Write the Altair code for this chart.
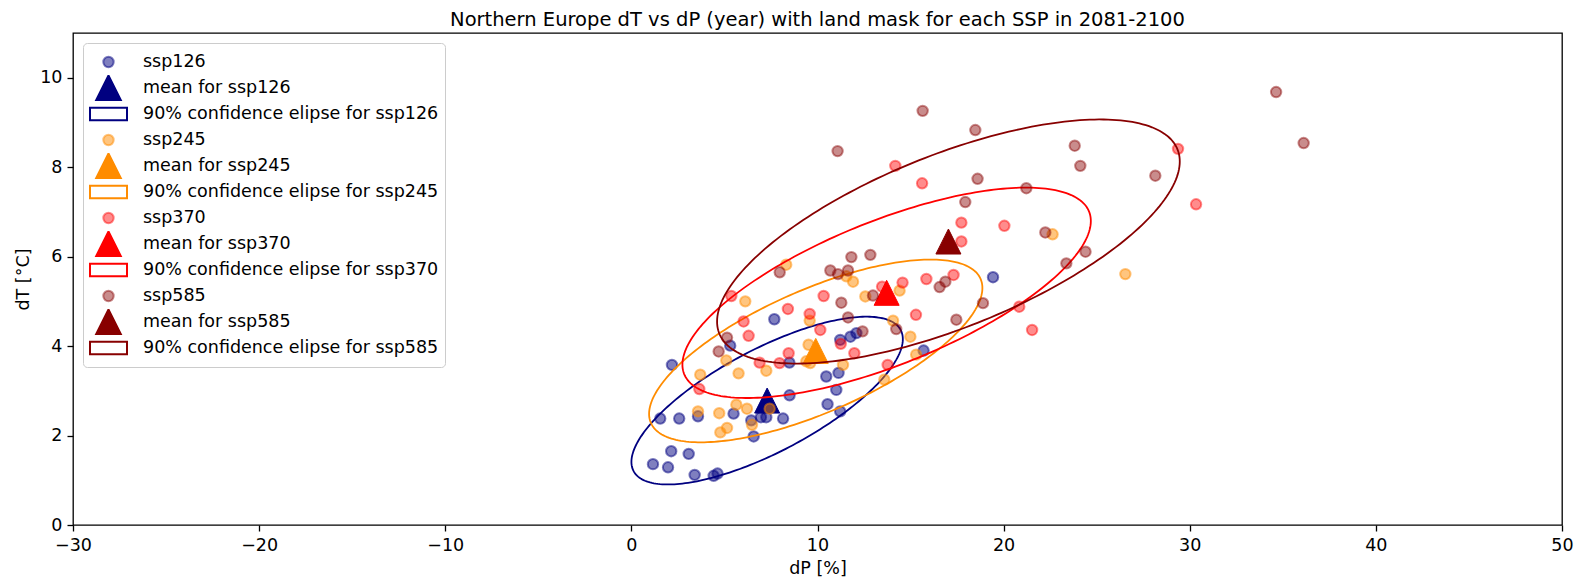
import altair as alt
import pandas as pd
import numpy as np

ssps = ["ssp126", "ssp245", "ssp370", "ssp585"]
solid = ["#000080", "#FF8C00", "#FF0000", "#880000"]
faded = ["rgba(0,0,128,0.5)", "rgba(255,140,0,0.5)", "rgba(255,0,0,0.45)", "rgba(136,0,0,0.45)"]

ssp126_dP = [1.16, 1.97, 2.14, 3.08, 3.40, 4.42, 4.63, 2.18, 1.55, 2.57, 3.58, 5.49, 6.44, 6.57, 6.96, 7.25,
             8.15, 8.50, 8.49, 10.47, 11.13, 11.01, 10.54, 11.22, 15.70, 11.22, 11.77, 12.09, 5.31, 7.68, 19.43]
ssp126_dT = [1.36, 1.29, 1.65, 1.59, 1.12, 1.10, 1.15, 3.58, 2.38, 2.38, 2.43, 2.49, 2.34, 1.98, 2.41, 2.41,
             2.38, 2.90, 3.63, 3.32, 3.40, 3.02, 2.70, 2.54, 3.90, 4.14, 4.21, 4.29, 4.01, 4.60, 5.54]

ssp245_dP = [3.70, 5.10, 5.76, 7.25, 9.40, 9.61, 11.37, 13.59, 15.30, 3.58, 4.72, 5.64, 6.21, 6.48, 4.78,
             5.14, 7.43, 8.32, 6.12, 9.58, 11.55, 11.91, 12.57, 14.41, 14.06, 14.99, 9.52, 22.63, 26.54]
ssp245_dT = [3.36, 3.68, 3.39, 3.45, 3.66, 3.62, 3.58, 3.25, 3.81, 2.54, 2.50, 2.69, 2.60, 2.24, 2.07,
             2.17, 2.60, 5.82, 5.00, 4.57, 5.56, 5.44, 5.11, 5.24, 4.57, 4.21, 4.03, 6.50, 5.61]

ssp370_dP = [5.37, 10.33, 8.41, 9.58, 6.03, 6.30, 10.15, 11.25, 8.45, 6.89, 7.96, 3.65, 11.98, 13.77,
             13.47, 14.57, 15.85, 17.31, 15.29, 20.84, 21.53, 17.73, 17.73, 20.04, 15.62, 14.18, 29.37, 30.34]
ssp370_dT = [5.12, 5.12, 4.83, 4.72, 4.55, 4.23, 4.36, 4.05, 3.84, 3.63, 3.62, 3.04, 3.84, 3.58,
             5.33, 5.42, 5.50, 5.59, 4.70, 4.88, 4.36, 6.34, 6.76, 6.69, 7.64, 8.03, 8.41, 7.17]

ssp585_dP = [7.97, 10.69, 11.10, 11.64, 11.82, 12.84, 11.28, 11.64, 5.14, 4.69, 12.98, 16.87, 16.56, 18.89,
             17.46, 14.23, 12.42, 15.65, 18.48, 11.08, 18.60, 23.82, 24.12, 21.22, 17.94, 22.24, 34.64,
             36.12, 28.15, 24.40, 23.37]
ssp585_dT = [5.65, 5.69, 5.61, 5.69, 5.99, 6.04, 4.97, 4.64, 4.19, 3.88, 5.13, 5.44, 5.32, 4.96,
             4.59, 4.38, 4.33, 9.26, 8.83, 8.36, 7.74, 8.48, 8.03, 7.53, 7.22, 6.54, 9.68,
             8.54, 7.81, 6.11, 5.85]

series = {
    "ssp126": (ssp126_dP, ssp126_dT),
    "ssp245": (ssp245_dP, ssp245_dT),
    "ssp370": (ssp370_dP, ssp370_dT),
    "ssp585": (ssp585_dP, ssp585_dT),
}

x_ticks = [-30, -20, -10, 0, 10, 20, 30, 40, 50]
y_ticks = [0, 2, 4, 6, 8, 10]
n_std = 1.645  # 90% confidence

TRI = "M0,-1L-1,1L1,1Z"
RECT = "M-1,-0.333L1,-0.333L1,0.333L-1,0.333Z"

# legend scales (one merged legend)
leg_domain, leg_fill, leg_stroke, leg_shape, leg_size = [], [], [], [], []
for s, c, f in zip(ssps, solid, faded):
    leg_domain += [s, f"mean for {s}", f"90% confidence elipse for {s}"]
    leg_fill += [f, c, "transparent"]
    leg_stroke += [f, c, c]
    leg_shape += ["circle", TRI, RECT]
    leg_size += [108, 625, 1369]

leg = alt.Legend(title=None, orient="top-left", offset=10, clipHeight=26, padding=6,
                 labelOffset=15, symbolStrokeWidth=2, labelLimit=0)

X = alt.X("dP:Q", scale=alt.Scale(domain=[-30, 50], nice=False, zero=False),
          axis=alt.Axis(values=x_ticks, title="dP [%]", labelFlush=False,
                        labelExpr="replace(datum.label, '-', '\u2212')"))
Y = alt.Y("dT:Q", scale=alt.Scale(domain=[0, 11], nice=False, zero=False),
          axis=alt.Axis(values=y_ticks, title="dT [°C]"))

layers = []
for s, c in zip(ssps, solid):
    xs, ys = series[s]
    pts = pd.DataFrame({"dP": xs, "dT": ys, "label": s})
    mx, my = float(np.mean(xs)), float(np.mean(ys))
    mean_df = pd.DataFrame({"dP": [mx], "dT": [my]})
    cov = np.cov(np.array(xs), np.array(ys))
    vals, vecs = np.linalg.eigh(cov)
    t = np.linspace(0, 2 * np.pi, 241)
    circ = np.vstack([np.cos(t), np.sin(t)])
    ell = vecs @ (np.sqrt(vals)[:, None] * circ) * n_std
    ell_df = pd.DataFrame({"dP": ell[0] + mx, "dT": ell[1] + my, "i": np.arange(len(t))})

    scatter = alt.Chart(pts).mark_point(filled=True, opacity=1, strokeWidth=2).encode(
        x=X, y=Y,
        fill=alt.Fill("label:N", scale=alt.Scale(domain=leg_domain, range=leg_fill), legend=leg),
        stroke=alt.Stroke("label:N", scale=alt.Scale(domain=leg_domain, range=leg_stroke), legend=leg),
        shape=alt.Shape("label:N", scale=alt.Scale(domain=leg_domain, range=leg_shape), legend=leg),
        size=alt.Size("label:N", scale=alt.Scale(type="ordinal", domain=leg_domain, range=leg_size), legend=leg),
    )
    mean = alt.Chart(mean_df).mark_point(shape=TRI, size=625, filled=True, opacity=1,
                                         color=c, stroke=c, strokeWidth=1).encode(x=X, y=Y)
    ellipse = alt.Chart(ell_df).mark_line(color=c, strokeWidth=1.8, opacity=1).encode(
        x=X, y=Y, order="i:Q")
    layers += [scatter, mean, ellipse]

chart = alt.layer(*layers).properties(
    width=1489, height=492,
    padding={"left": 65, "top": 25, "right": 12, "bottom": 52},
    autosize=alt.AutoSizeParams(type="none"),
    title=alt.TitleParams("Northern Europe dT vs dP (year) with land mask for each SSP in 2081-2100"),
).configure_view(
    stroke="black", strokeWidth=1.3
).configure_axis(
    domain=False, grid=False, tickSize=6, tickWidth=1.3, tickColor="black",
    labelColor="black", labelFont="DejaVu Sans", labelFontSize=17.5, labelPadding=5,
    titleFont="DejaVu Sans", titleFontSize=17.5, titleFontWeight="normal", titleColor="black",
).configure_axisX(titlePadding=6).configure_axisY(titlePadding=7).configure_title(
    font="DejaVu Sans", fontSize=19.5, fontWeight="normal", color="black", offset=3, anchor="middle"
).configure_legend(
    labelFont="DejaVu Sans", labelFontSize=17.5, labelColor="black",
    strokeColor="#cccccc", fillColor="rgba(255,255,255,0.8)", cornerRadius=4, rowPadding=0,
)

chart.save("out.html", embed_options={"renderer": "svg", "actions": False})
